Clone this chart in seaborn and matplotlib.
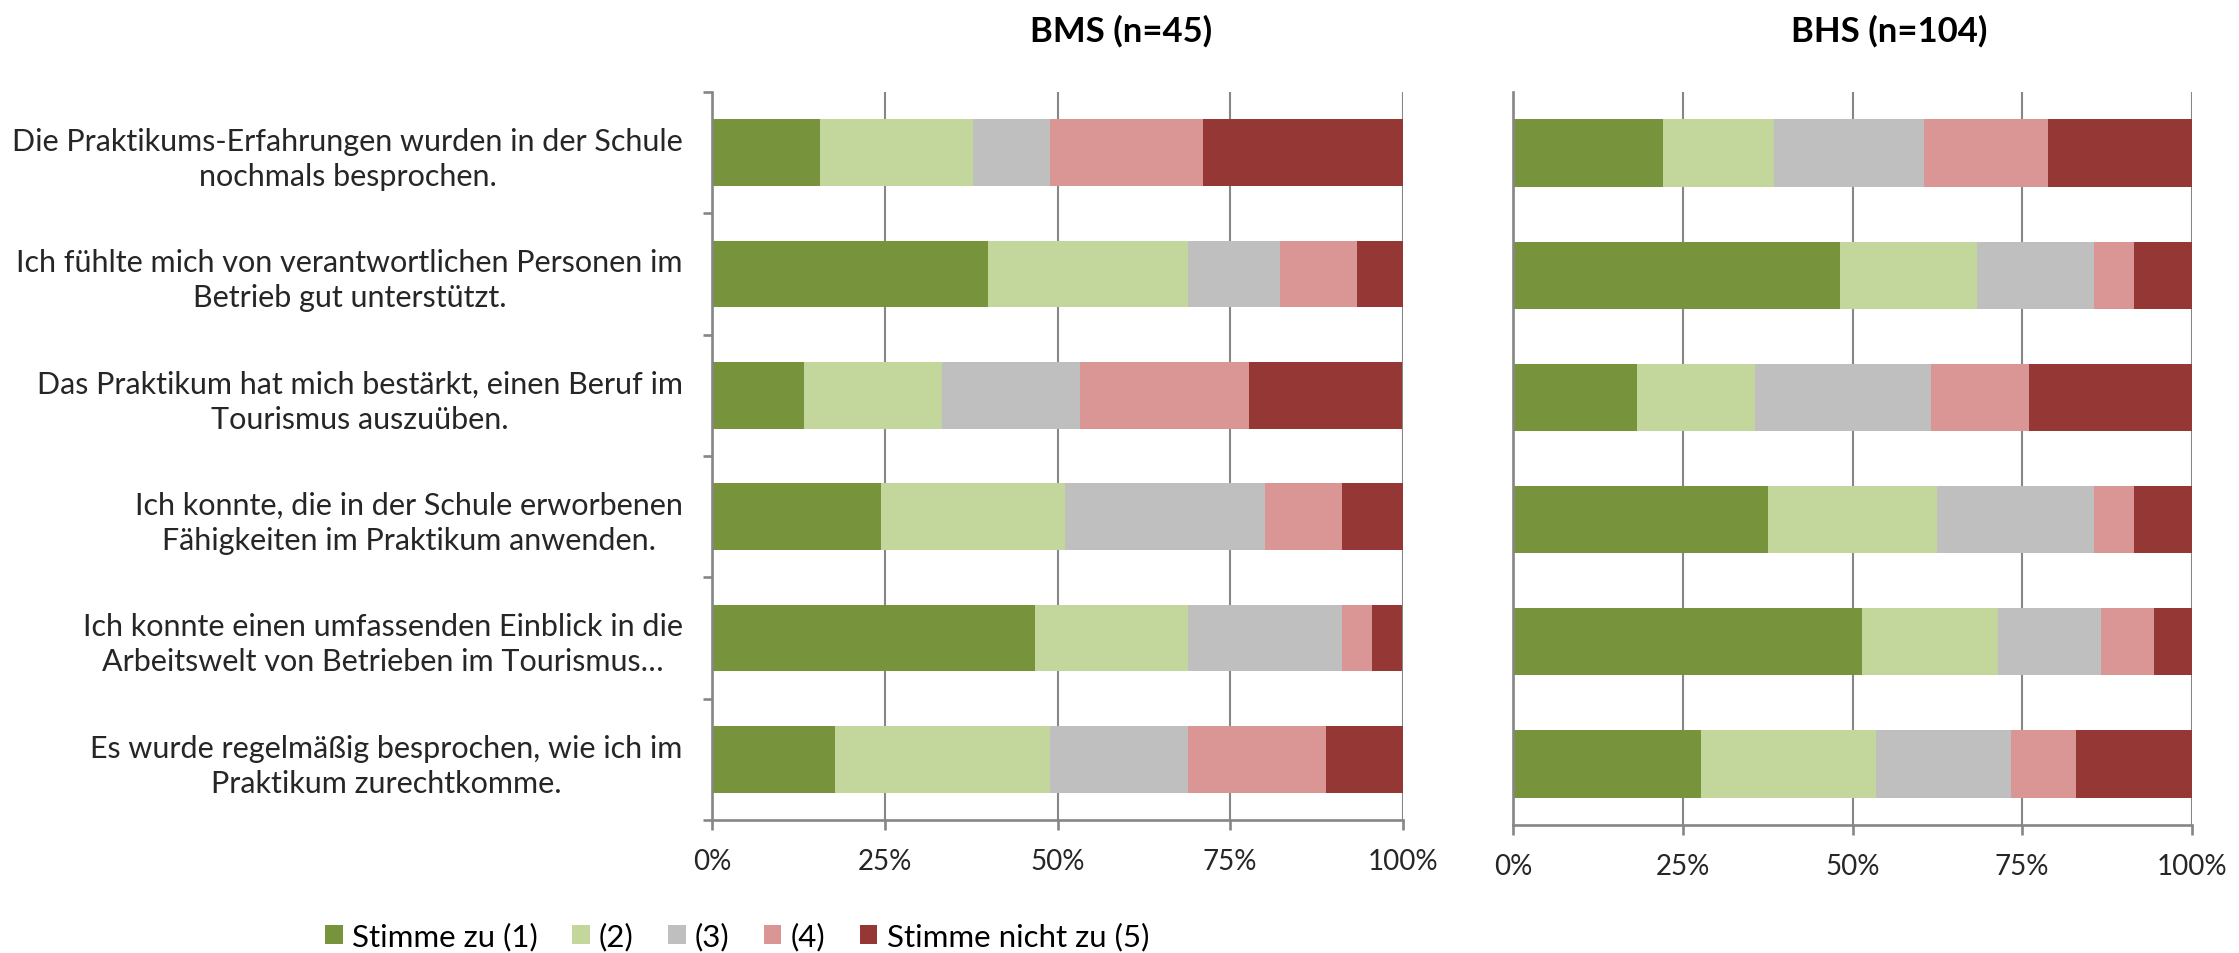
import numpy as np
import pandas as pd
import matplotlib
matplotlib.use("Agg")
import matplotlib.pyplot as plt
from matplotlib.patches import Patch
import seaborn as sns

# Survey statements (y categories)
items = [
    "Die Praktikums-Erfahrungen wurden in der Schule\nnochmals besprochen.",
    "Ich fühlte mich von verantwortlichen Personen im\nBetrieb gut unterstützt.",
    "Das Praktikum hat mich bestärkt, einen Beruf im\nTourismus auszuüben.",
    "Ich konnte, die in der Schule erworbenen\nFähigkeiten im Praktikum anwenden.",
    "Ich konnte einen umfassenden Einblick in die\nArbeitswelt von Betrieben im Tourismus…",
    "Es wurde regelmäßig besprochen, wie ich im\nPraktikum zurechtkomme.",
]

# Answer levels
levels = ["Stimme zu (1)", "(2)", "(3)", "(4)", "Stimme nicht zu (5)"]
colors = ["#77933C", "#C3D69B", "#BFBFBF", "#D99694", "#953735"]

# Panel titles
panel_titles = ["BMS (n=45)", "BHS (n=104)"]

# BMS shares in percent (one list per answer level, one value per statement)
bms_1 = [15.6, 40.0, 13.3, 24.4, 46.7, 17.8]
bms_2 = [22.2, 28.9, 20.0, 26.7, 22.2, 31.1]
bms_3 = [11.1, 13.3, 20.0, 28.9, 22.2, 20.0]
bms_4 = [22.2, 11.1, 24.4, 11.1, 4.4, 20.0]
bms_5 = [28.9, 6.7, 22.2, 8.9, 4.4, 11.1]

# BHS shares in percent
bhs_1 = [22.1, 48.1, 18.3, 37.5, 51.4, 27.7]
bhs_2 = [16.3, 20.2, 17.3, 25.0, 20.0, 25.7]
bhs_3 = [22.1, 17.3, 26.0, 23.1, 15.2, 19.9]
bhs_4 = [18.3, 5.8, 14.4, 5.8, 7.8, 9.6]
bhs_5 = [21.2, 8.7, 24.0, 8.7, 5.6, 17.1]

# X axis ticks
x_ticks = [0, 25, 50, 75, 100]
x_ticklabels = ["0%", "25%", "50%", "75%", "100%"]

sns.set_style("white")
plt.rcParams["font.family"] = ["Lato", "DejaVu Sans"]
plt.rcParams["text.color"] = "black"

AXIS_GRAY = "#868686"

fig = plt.figure(figsize=(22.39, 9.54), dpi=100)
ax_left = fig.add_axes([712 / 2239, 1 - 821 / 954, 691 / 2239, (821 - 93) / 954])
ax_right = fig.add_axes([1513 / 2239, 1 - 826 / 954, 679 / 2239, (826 - 93) / 954])

panels = [
    (ax_left, [bms_1, bms_2, bms_3, bms_4, bms_5]),
    (ax_right, [bhs_1, bhs_2, bhs_3, bhs_4, bhs_5]),
]

for idx, (ax, series) in enumerate(panels):
    stack = np.array(series, dtype=float)
    cum = np.cumsum(stack, axis=0)
    # Stacked bars: draw cumulative totals from the last level backwards
    for k in range(len(levels) - 1, -1, -1):
        df = pd.DataFrame({"item": items, "value": cum[k]})
        sns.barplot(data=df, x="value", y="item", orient="h", color=colors[k],
                    saturation=1, width=0.55, linewidth=0, ax=ax, errorbar=None)

    ax.set_xlim(0, 100)
    ax.set_ylim(5.5, -0.5)
    ax.set_xlabel("")
    ax.set_ylabel("")
    ax.set_axisbelow(True)
    ax.set_xticks(x_ticks)
    ax.set_xticklabels(x_ticklabels)
    ax.xaxis.grid(True, color=AXIS_GRAY, linewidth=1.5)
    ax.yaxis.grid(False)
    for side in ("top", "right"):
        ax.spines[side].set_visible(False)
    for side in ("left", "bottom"):
        ax.spines[side].set_color(AXIS_GRAY)
        ax.spines[side].set_linewidth(1.9)
    ax.tick_params(axis="x", which="major", direction="out", length=7.5, width=1.9,
                   color=AXIS_GRAY, labelsize=20, pad=13, bottom=True)

    if idx == 0:
        ax.set_yticks(np.arange(-0.5, len(items), 1.0), minor=True)
        ax.tick_params(axis="y", which="major", length=0, pad=21, labelsize=22)
        ax.tick_params(axis="y", which="minor", direction="out", length=6.5, width=1.9,
                       color=AXIS_GRAY, left=True)
        for lab in ax.get_yticklabels():
            lab.set_multialignment("center")
            lab.set_linespacing(1.3)
    else:
        ax.tick_params(axis="y", which="both", left=False, labelleft=False)

# Panel titles
fig.text(1121 / 2239, 1 - 31 / 954, panel_titles[0], ha="center", va="center",
         fontsize=25, fontweight="bold")
fig.text(1889 / 2239, 1 - 31 / 954, panel_titles[1], ha="center", va="center",
         fontsize=25, fontweight="bold")

# Legend
handles = [Patch(facecolor=c, edgecolor="none", label=l) for c, l in zip(colors, levels)]
fig.legend(handles=handles, loc="center", bbox_to_anchor=(737 / 2239, 1 - 937 / 954),
           ncol=5, frameon=False, fontsize=22.5, handlelength=0.56, handleheight=0.56,
           handletextpad=0.3, columnspacing=1.1, borderpad=0, borderaxespad=0)

fig.savefig("out.png", dpi=100)
